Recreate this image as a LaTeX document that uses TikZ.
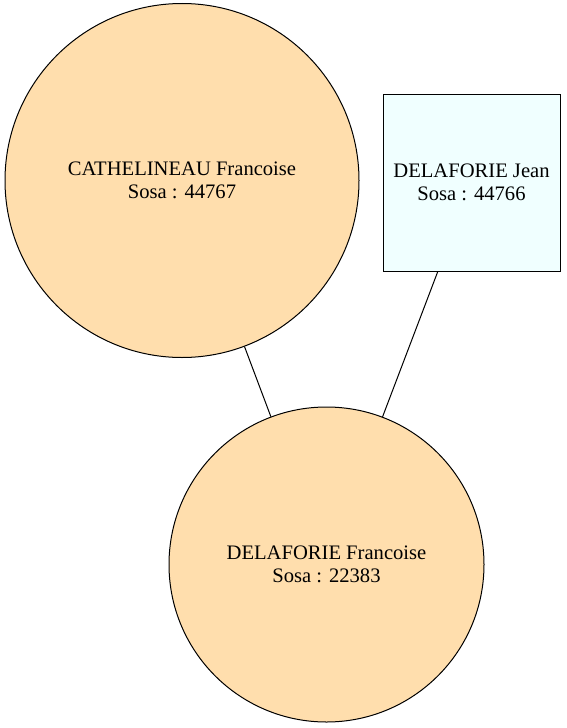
\documentclass[tikz,border=0pt]{standalone}
\usepackage{fontspec}
\setmainfont{Liberation Serif}
\definecolor{personfill}{HTML}{FFDEAD}
\definecolor{fatherfill}{HTML}{F0FFFF}
\tikzset{
  person/.style={circle, draw, line width=1pt, fill=personfill, inner sep=0pt, align=center,
    font=\fontsize{20.6}{23}\selectfont},
  father/.style={rectangle, draw, line width=1pt, fill=fatherfill, inner sep=0pt, align=center,
    font=\fontsize{20.6}{23}\selectfont}
}
\begin{document}
\begin{tikzpicture}[x=1pt, y=-1pt]
  \useasboundingbox (0,0) rectangle (566,728);
  \node[person, minimum size=354pt] (44767) at (182,180.5) {CATHELINEAU Francoise\\Sosa : 44767};
  \node[father, minimum width=177pt, minimum height=177pt] (44766) at (471.5,182.5) {DELAFORIE Jean\\Sosa : 44766};
  \node[person, minimum size=315pt] (22383) at (326.5,564.5) {DELAFORIE Francoise\\Sosa : 22383};
  \draw[line width=1pt] (44767) -- (22383);
  \draw[line width=1pt] (44766) -- (22383);
\end{tikzpicture}
\end{document}
